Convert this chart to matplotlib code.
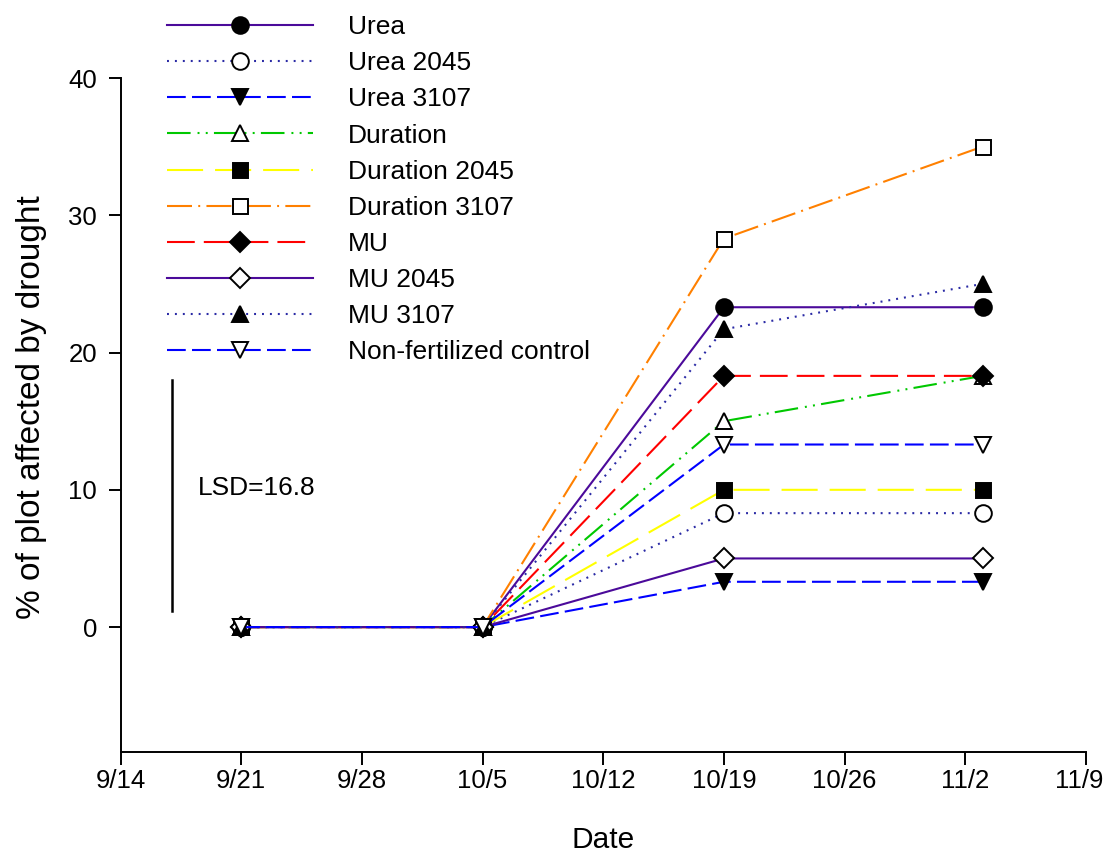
import datetime as dt
import matplotlib
matplotlib.use("Agg")
import matplotlib.pyplot as plt
from matplotlib.ticker import FuncFormatter
from matplotlib.transforms import ScaledTranslation
import matplotlib.dates as mdates

plt.rcParams['font.family'] = ['Liberation Sans', 'DejaVu Sans']
plt.rcParams['lines.scale_dashes'] = False

# data
dates = [dt.datetime(2015, 9, 21), dt.datetime(2015, 10, 5),
         dt.datetime(2015, 10, 19), dt.datetime(2015, 11, 3)]

urea = [0, 0, 23.3, 23.3]
urea_2045 = [0, 0, 8.3, 8.3]
urea_3107 = [0, 0, 3.3, 3.3]
duration = [0, 0, 15.0, 18.3]
duration_2045 = [0, 0, 10.0, 10.0]
duration_3107 = [0, 0, 28.3, 35.0]
mu = [0, 0, 18.3, 18.3]
mu_2045 = [0, 0, 5.0, 5.0]
mu_3107 = [0, 0, 21.7, 25.0]
control = [0, 0, 13.3, 13.3]

labels = ["Urea", "Urea 2045", "Urea 3107", "Duration", "Duration 2045",
          "Duration 3107", "MU", "MU 2045", "MU 3107", "Non-fertilized control"]
series = [urea, urea_2045, urea_3107, duration, duration_2045,
          duration_3107, mu, mu_2045, mu_3107, control]

lsd = 16.8
lsd_bottom = 1.2

# styles
purple = "#4b0a9a"
navy = "#2a2aa5"
dotted = (0, (1.4, 4.3))
dashed = (0, (13.5, 4.5))
styles = [
    dict(color=purple, ls="-", marker="o", mfc="black"),
    dict(color=navy, ls=dotted, marker="o", mfc="white"),
    dict(color="#0000ff", ls=dashed, marker="v", mfc="black"),
    dict(color="#00c800", ls=(0, (17, 5, 1.4, 4.5, 1.4, 4.5)), marker="^", mfc="white"),
    dict(color="#ffff00", ls=(0, (26, 8.6)), marker="s", mfc="black"),
    dict(color="#ff8000", ls=(0, (18, 4.5, 1.4, 4.5)), marker="s", mfc="white"),
    dict(color="#ff0000", ls=(0, (20, 6.5)), marker="D", mfc="black"),
    dict(color=purple, ls="-", marker="D", mfc="white"),
    dict(color=navy, ls=dotted, marker="^", mfc="black"),
    dict(color="#0000ff", ls=dashed, marker="v", mfc="white"),
]
msizes = {"o": 12, "v": 11.5, "^": 11.5, "s": 10.8, "D": 10.5}

fig = plt.figure(figsize=(11.05, 8.61), dpi=100)
ax = fig.add_axes([120.5 / 1105, 1 - 752 / 861, (1086 - 120.5) / 1105, (752 - 78) / 861])

for lab, vals, st in zip(labels, series, styles):
    ax.plot(dates, vals, label=lab, lw=1.5, mec="black", mew=1.4,
            ms=msizes[st["marker"]], **st)

# LSD bar
lsd_x = dt.datetime(2015, 9, 17)
ax.plot([lsd_x, lsd_x], [lsd_bottom, lsd_bottom + lsd], color="black", lw=1.8)
ax.text(dt.datetime(2015, 9, 18, 12), 10.1, "LSD=16.8", fontsize=19,
        va="center", ha="left")

ax.set_xlim(dt.datetime(2015, 9, 14), dt.datetime(2015, 11, 9))
ax.set_ylim(-9.1, 40)
ax.set_xticks([dt.datetime(2015, 9, 14) + dt.timedelta(days=7 * i) for i in range(9)])
ax.xaxis.set_major_formatter(FuncFormatter(
    lambda v, pos: "{}/{}".format(mdates.num2date(v).month, mdates.num2date(v).day)))
ax.set_yticks([0, 10, 20, 30, 40])

for s in ["top", "right"]:
    ax.spines[s].set_visible(False)
for s in ["left", "bottom"]:
    ax.spines[s].set_linewidth(1.4)
ax.tick_params(axis="both", direction="out", length=9, width=1.4, labelsize=18.5)
ax.tick_params(axis="x", pad=3)
ax.tick_params(axis="y", pad=8)

# last date label sits against the right edge, nudge it left a bit
last = ax.get_xticklabels()[-1]
last.set_transform(last.get_transform() + ScaledTranslation(-7 / 100, 0, fig.dpi_scale_trans))

ax.set_xlabel("Date", fontsize=21.5)
ax.xaxis.set_label_coords(0.5, -0.11)
ax.set_ylabel("% of plot affected by drought", fontsize=24)
ax.yaxis.set_label_coords(-0.076, 0.511)

ax.legend(loc="upper left", bbox_to_anchor=(154 / 1105, 1 - 2 / 861),
          bbox_transform=fig.transFigure, frameon=False, fontsize=19,
          borderpad=0, handlelength=5.53, handletextpad=1.33,
          labelspacing=0.46, numpoints=1)

fig.savefig("out.png", dpi=100)
